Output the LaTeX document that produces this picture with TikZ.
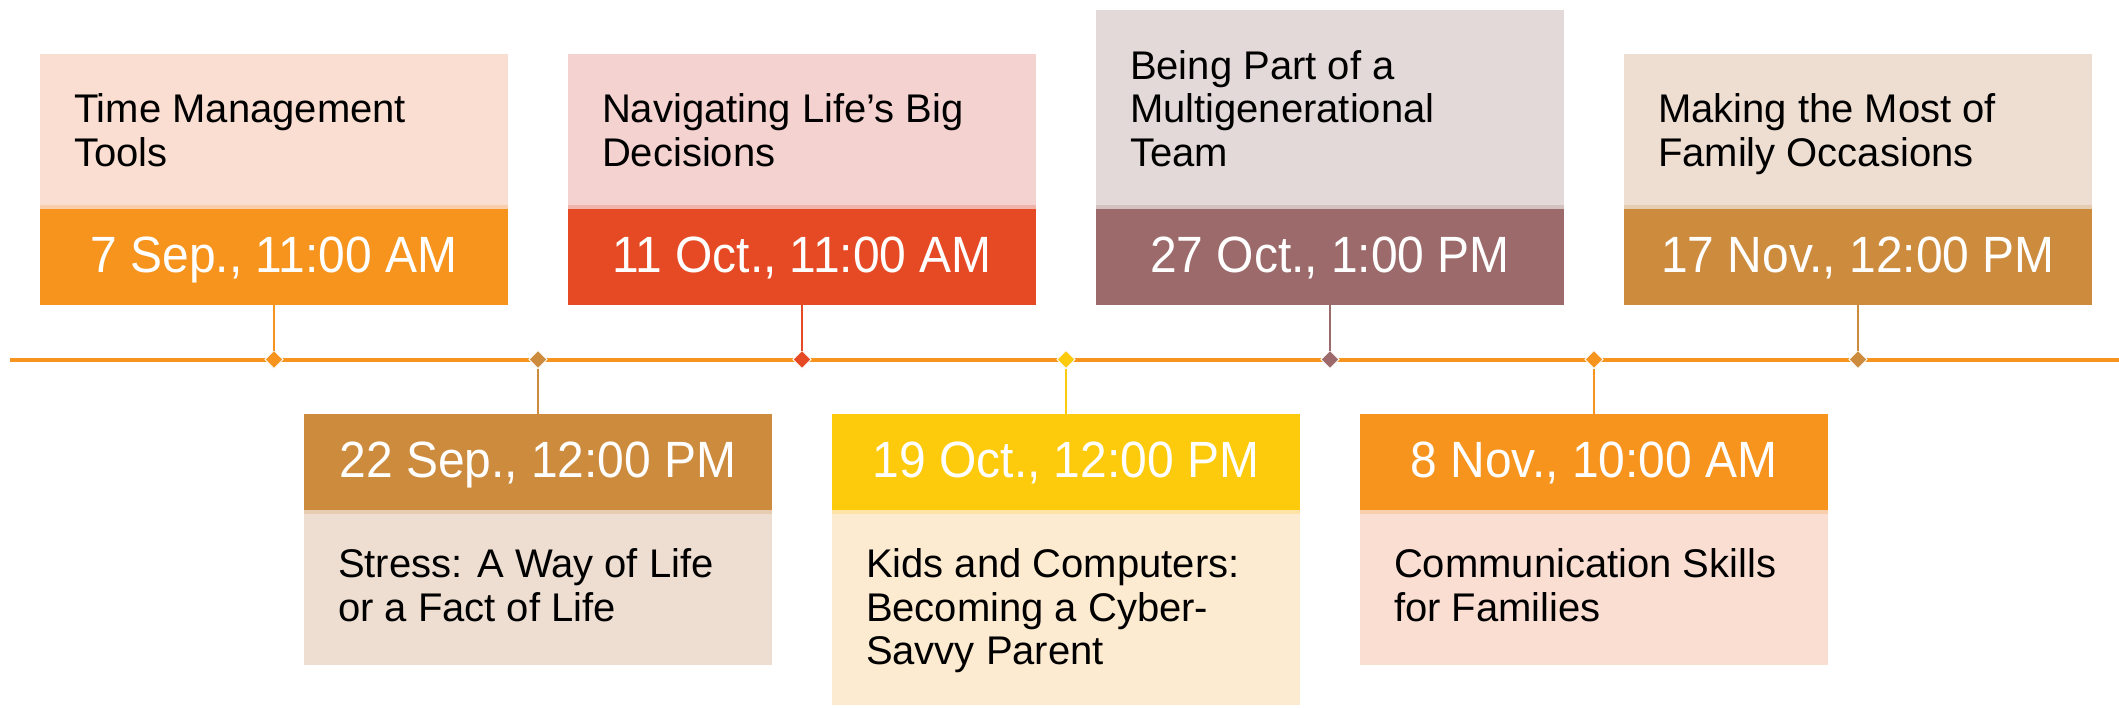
\documentclass[tikz,border=0pt]{standalone}
\usepackage{fontspec}
\setmainfont{Liberation Sans}
\newfontfamily\datefont[FakeStretch=0.94]{Liberation Sans}
\usetikzlibrary{shapes.geometric}
\definecolor{cOrange}{HTML}{F7941E}
\definecolor{cPeach}{HTML}{FBDED2}
\definecolor{cOchre}{HTML}{CD8B3E}
\definecolor{cSand}{HTML}{EDDED1}
\definecolor{cRed}{HTML}{E64A24}
\definecolor{cPink}{HTML}{F3D2D0}
\definecolor{cYellow}{HTML}{FDCA0C}
\definecolor{cCream}{HTML}{FDEBD1}
\definecolor{cMauve}{HTML}{9C6A6A}
\definecolor{cGrey}{HTML}{E2D9D8}
\tikzset{
  box/.style={rectangle, draw=none, inner sep=0pt, outer sep=0pt, minimum width=234pt},
  datebox/.style={box, minimum height=48pt, text=white,
    font=\datefont\fontsize{25.5pt}{28pt}\selectfont, text height=18pt, text depth=2.5pt},
  ttl/.style={inner sep=0pt, outer sep=0pt, text=black,
    font=\fontsize{20pt}{21.75pt}\selectfont},
  dmd/.style={diamond, draw=white, line width=0.5pt, inner sep=0pt, outer sep=0pt,
    minimum width=9pt, minimum height=9pt},
  conn/.style={line width=1.4pt},
  tline/.style={line width=2pt, cOrange}
}
\newcommand\tlTop[8]{%
  \node[box, fill=#4, minimum height={(209-#3)*0.5pt}] (t#1) at (#2,{(#3+209)/2}) {};
  \fill[#5!22!#4] ([yshift=2pt]t#1.south west) rectangle (t#1.south east);
  \node[datebox, fill=#5] (d#1) at (#2,257) {#8};
  \node[ttl, anchor=base west] (x#1) at ({#2-200},#6) {#7};
  \node[dmd, fill=#5] (m#1) at (#2,359.5) {};
  \draw[conn, #5] (d#1.south) -- (m#1.north);
}
\newcommand\tlBot[8]{%
  \node[datebox, fill=#5] (d#1) at (#2,461.5) {#8};
  \node[box, fill=#4, minimum height={(#3-509.5)*0.5pt}] (t#1) at (#2,{(#3+509.5)/2}) {};
  \fill[#5!22!#4] (t#1.north west) rectangle ([yshift=-2pt]t#1.north east);
  \node[ttl, anchor=base west] (x#1) at ({#2-200},#6) {#7};
  \node[dmd, fill=#5] (m#1) at (#2,359.5) {};
  \draw[conn, #5] (m#1.south) -- (d#1.north);
}
\begin{document}
\begin{tikzpicture}[x=0.5pt,y=-0.5pt]
\useasboundingbox[fill=white] (0,0) rectangle (2119,707);
\coordinate (tlA) at (10,359.5);
\coordinate (tlB) at (2119,359.5);
\draw[tline] (tlA) -- (tlB);
\tlTop{1}{274}{54}{cPeach}{cOrange}{122.5}{\vtop{\hbox{Time Management}\hbox{Tools}}}{7 Sep., 11:00 AM}
\tlBot{2}{538}{665}{cSand}{cOchre}{577.5}{\vtop{\hbox{Stress: A Way of Life}\hbox{or a Fact of Life}}}{22 Sep., 12:00 PM}
\tlTop{3}{802}{54}{cPink}{cRed}{122.5}{\vtop{\hbox{Navigating Life’s Big}\hbox{Decisions}}}{11 Oct., 11:00 AM}
\tlBot{4}{1066}{705}{cCream}{cYellow}{577.5}{\vtop{\hbox{Kids and Computers:}\hbox{Becoming a Cyber-}\hbox{Savvy Parent}}}{19 Oct., 12:00 PM}
\tlTop{5}{1330}{9.5}{cGrey}{cMauve}{79}{\vtop{\hbox{Being Part of a}\hbox{Multigenerational}\hbox{Team}}}{27 Oct., 1:00 PM}
\tlBot{6}{1594}{665}{cPeach}{cOrange}{577.5}{\vtop{\hbox{Communication Skills}\hbox{for Families}}}{8 Nov., 10:00 AM}
\tlTop{7}{1858}{54}{cSand}{cOchre}{122.5}{\vtop{\hbox{Making the Most of}\hbox{Family Occasions}}}{17 Nov., 12:00 PM}
\end{tikzpicture}
\end{document}
